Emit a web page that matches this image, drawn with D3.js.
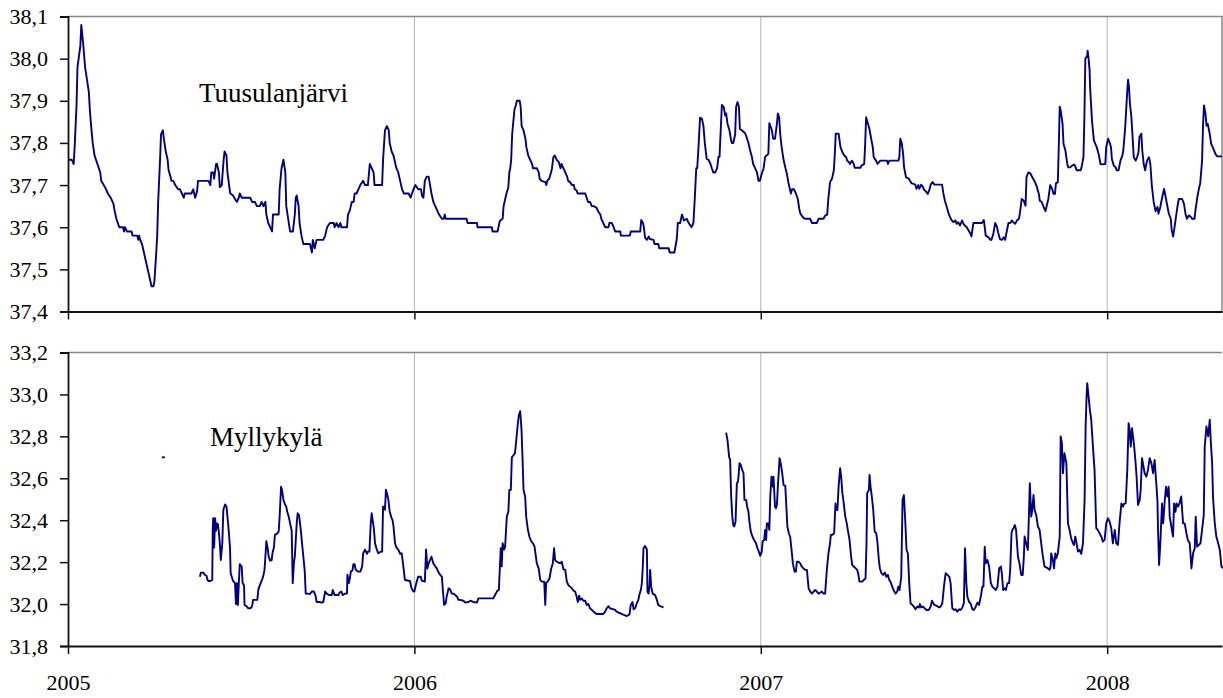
<!DOCTYPE html>
<html>
<head>
<meta charset="utf-8">
<script src="https://cdn.jsdelivr.net/npm/d3@7"></script>
<style>
  body { margin: 0; background: #fff; }
  svg { display: block; }
  text { font-family: "Liberation Serif", "Times New Roman", serif; fill: #000; }
</style>
</head>
<body>
<div id="chart"></div>
<script>
// x values are days since 2005-01-01, y values are water levels (m)
const yearTicks = [2005, 2006, 2007, 2008]
const topTicks = [37.4, 37.5, 37.6, 37.7, 37.8, 37.9, 38.0, 38.1]
const bottomTicks = [31.8, 32.0, 32.2, 32.4, 32.6, 32.8, 33.0, 33.2]

const tuusulanjarvi = [
	[0,37.76],[4,37.76],[6,37.75],[7,37.79],[9,37.89],[10,37.98],[13,38.03],[14,38.08],[16,38.035],[18,37.98],
	[20,37.95],[22,37.92],[23,37.88],[24,37.85],[26,37.80],[28,37.77],[31,37.75],[34,37.73],[35,37.71],[39,37.695],
	[42,37.68],[45,37.67],[48,37.655],[49,37.64],[51,37.62],[54,37.60],[58,37.60],[59,37.59],[60,37.60],[62,37.59],
	[67,37.59],[68,37.58],[73,37.58],[74,37.57],[75,37.58],[76,37.57],[78,37.56],[80,37.54],[82,37.52],[84,37.50],
	[86,37.48],[88,37.46],[90,37.46],[91,37.47],[93,37.54],[94,37.58],[95,37.66],[97,37.76],[98,37.82],[100,37.83],
	[101,37.81],[103,37.78],[105,37.76],[106,37.735],[108,37.72],[109,37.71],[111,37.71],[113,37.70],[116,37.69],[118,37.69],
	[120,37.68],[122,37.67],[123,37.68],[130,37.68],[132,37.69],[134,37.67],[136,37.685],[137,37.71],[148,37.71],[150,37.70],
	[151,37.73],[153,37.73],[154,37.715],[156,37.75],[157,37.75],[159,37.73],[160,37.695],[162,37.70],[164,37.76],[165,37.78],
	[167,37.77],[168,37.73],[170,37.695],[171,37.68],[174,37.675],[176,37.667],[178,37.66],[180,37.67],[181,37.68],[183,37.67],
	[192,37.67],[194,37.66],[197,37.66],[199,37.65],[202,37.65],[204,37.66],[206,37.65],[208,37.66],[209,37.63],[211,37.61],
	[213,37.60],[215,37.59],[216,37.63],[222,37.63],[223,37.69],[225,37.74],[227,37.76],[229,37.73],[230,37.65],[232,37.62],
	[234,37.59],[237,37.59],[239,37.63],[240,37.67],[241,37.675],[243,37.65],[244,37.61],[246,37.58],[248,37.56],[255,37.56],
	[257,37.54],[258,37.57],[259,37.56],[260,37.55],[262,37.57],[269,37.57],[271,37.58],[273,37.60],[276,37.61],[280,37.61],
	[281,37.60],[283,37.61],[285,37.60],[287,37.61],[288,37.60],[294,37.60],[295,37.63],[297,37.64],[299,37.66],[301,37.66],
	[302,37.68],[304,37.68],[306,37.69],[308,37.70],[311,37.71],[313,37.70],[316,37.70],[318,37.75],[320,37.74],[322,37.73],
	[323,37.70],[331,37.70],[332,37.76],[334,37.83],[336,37.84],[338,37.83],[339,37.80],[341,37.78],[343,37.77],[345,37.75],
	[346,37.74],[348,37.73],[350,37.71],[352,37.69],[354,37.68],[359,37.68],[361,37.67],[364,37.69],[366,37.70],[369,37.69],
	[372,37.69],[373,37.675],[374.5,37.67],[376,37.71],[378,37.72],[380,37.72],[381.5,37.70],[383,37.68],[385,37.66],[387,37.65],
	[389,37.64],[391,37.63],[394,37.62],[396,37.62],[397,37.63],[398,37.62],[420,37.62],[421,37.61],[431,37.61],[431.5,37.60],
	[446.6,37.60],[447.3,37.59],[452.6,37.59],[453.6,37.60],[455,37.615],[458,37.62],[459,37.65],[461,37.67],[462,37.68],[464,37.695],
	[465,37.73],[466,37.74],[467,37.76],[468,37.82],[469,37.845],[470.5,37.88],[472,37.89],[473,37.90],[476,37.90],[477,37.885],
	[478,37.84],[480,37.83],[482,37.81],[483,37.79],[485,37.77],[487,37.76],[489,37.75],[490,37.74],[494,37.74],[496,37.73],
	[497,37.715],[499,37.71],[503,37.707],[504,37.70],[505,37.71],[507,37.715],[509,37.73],[510,37.74],[511.5,37.767],[513,37.77],
	[515,37.76],[517,37.755],[519,37.74],[520,37.75],[522,37.74],[524,37.73],[526,37.72],[527,37.71],[529,37.707],[531,37.70],
	[533,37.70],[534,37.69],[536,37.687],[537,37.68],[545,37.68],[547,37.667],[548,37.66],[550,37.66],[552,37.65],[554,37.65],
	[557,37.646],[559,37.636],[561,37.63],[562,37.62],[564,37.61],[566,37.60],[569.5,37.60],[570.5,37.61],[573,37.61],[575,37.60],
	[576.5,37.59],[582,37.59],[582.5,37.58],[592,37.58],[593,37.59],[603,37.59],[604,37.617],[606,37.61],[607,37.596],[608,37.576],
	[610,37.57],[612,37.578],[613,37.572],[617,37.57],[618,37.56],[622,37.56],[623,37.55],[633,37.55],[634,37.54],[639,37.54],
	[640,37.553],[641.5,37.572],[642.6,37.61],[645,37.61],[647,37.63],[649,37.616],[652,37.62],[654,37.61],[657,37.60],[659,37.61],
	[660.5,37.67],[662,37.74],[663,37.74],[664.4,37.79],[666,37.86],[668,37.857],[669.6,37.84],[671,37.80],[673,37.762],[675,37.76],
	[677,37.75],[678.4,37.74],[680,37.73],[682,37.73],[684,37.74],[685.4,37.767],[686.5,37.767],[688,37.84],[689,37.89],[691,37.885],
	[692.5,37.865],[693.5,37.87],[695,37.845],[697,37.83],[698.4,37.81],[699.5,37.80],[701,37.80],[703,37.82],[704,37.885],[705.5,37.897],
	[707,37.885],[708,37.833],[710,37.83],[713.5,37.823],[715,37.814],[717,37.80],[719,37.78],[720.6,37.767],[722,37.75],[724,37.74],
	[726,37.73],[727.6,37.71],[729,37.71],[731,37.727],[733,37.74],[734.6,37.767],[736,37.77],[738,37.774],[739,37.847],[741.7,37.83],
	[743,37.81],[745,37.81],[747,37.845],[748,37.87],[749.4,37.86],[750.5,37.82],[752,37.79],[754,37.76],[756,37.74],[757.5,37.727],
	[759,37.707],[761.7,37.68],[763,37.69],[765,37.69],[767,37.68],[769,37.667],[770.5,37.644],[771.6,37.633],[773,37.628],[775,37.622],
	[777,37.62],[782,37.62],[784,37.61],[789,37.61],[791,37.62],[796,37.62],[798,37.628],[800,37.63],[801,37.663],[803,37.707],
	[805,37.715],[807,37.735],[808,37.774],[809,37.822],[812,37.822],[813,37.806],[814,37.79],[816,37.778],[818,37.77],[820,37.766],
	[821,37.758],[823,37.754],[824,37.75],[826,37.758],[828,37.75],[829,37.741],[835,37.741],[836,37.746],[839,37.75],[840,37.798],
	[841,37.861],[843,37.845],[844.5,37.833],[846,37.814],[848,37.79],[849,37.766],[851.5,37.758],[853,37.75],[856,37.758],[863,37.758],
	[864,37.75],[865.5,37.758],[875,37.758],[876,37.766],[877,37.81],[878.5,37.80],[880,37.774],[881,37.742],[883,37.719],[886,37.715],
	[887,37.711],[889,37.704],[891,37.703],[893,37.70],[894,37.691],[896,37.70],[897,37.691],[899,37.701],[901,37.695],[902,37.689],
	[904,37.685],[906,37.679],[908,37.691],[909,37.701],[911,37.707],[913,37.701],[921,37.701],[922.5,37.679],[924,37.663],[926,37.648],
	[928,37.632],[929.5,37.624],[931,37.617],[933,37.612],[935,37.616],[936.5,37.608],[938,37.612],[940,37.604],[942,37.616],[943.6,37.608],
	[945,37.604],[947,37.60],[949,37.592],[951,37.584],[952,37.578],[954,37.61],[963,37.61],[965,37.617],[966,37.60],[967,37.58],
	[970,37.576],[972,37.57],[973,37.57],[975,37.584],[977,37.61],[979,37.60],[980,37.588],[982,37.572],[984,37.57],[986,37.576],
	[987.5,37.57],[989,37.588],[991,37.61],[993,37.61],[994.5,37.616],[996,37.612],[998,37.608],[1000,37.616],[1002,37.62],[1003,37.632],
	[1005,37.667],[1007,37.663],[1009,37.651],[1010,37.719],[1012,37.73],[1014,37.728],[1016,37.719],[1017,37.715],[1019,37.707],[1021,37.695],
	[1023,37.679],[1024,37.663],[1026,37.66],[1028,37.648],[1030,37.638],[1031,37.648],[1033,37.667],[1035,37.70],[1037,37.691],[1038.5,37.679],
	[1040,37.679],[1041,37.704],[1043,37.707],[1044,37.79],[1045,37.886],[1046,37.877],[1048,37.845],[1049,37.798],[1051,37.782],[1053,37.75],
	[1054,37.742],[1056,37.742],[1058,37.746],[1060,37.749],[1061,37.746],[1063,37.735],[1067,37.735],[1068,37.742],[1070,37.766],[1071,37.861],
	[1072,38.0],[1074,38.007],[1074.4,38.019],[1075.4,38.0],[1076.5,37.972],[1077,37.932],[1078,37.893],[1079,37.853],[1081,37.806],[1082.5,37.798],
	[1084,37.79],[1086,37.774],[1088,37.75],[1090,37.749],[1093,37.75],[1094,37.79],[1096,37.81],[1098,37.798],[1099,37.79],[1100,37.762],
	[1102,37.746],[1104,37.742],[1105,37.735],[1107,37.735],[1109,37.758],[1111,37.77],[1112,37.782],[1114,37.837],[1116,37.917],[1117,37.95],
	[1118,37.932],[1119,37.893],[1120.5,37.861],[1122,37.806],[1123,37.766],[1125,37.758],[1126.5,37.766],[1128,37.778],[1129,37.814],[1131,37.822],
	[1132,37.782],[1133.5,37.75],[1135,37.735],[1137,37.758],[1139,37.766],[1140.5,37.75],[1142,37.70],[1144,37.66],[1146,37.638],[1148,37.648],
	[1149,37.632],[1151,37.648],[1153,37.671],[1155,37.691],[1156,37.679],[1158,37.655],[1160,37.632],[1162,37.62],[1163,37.593],[1164.5,37.578],
	[1166,37.60],[1167,37.616],[1169,37.648],[1170.5,37.667],[1174,37.667],[1176,37.655],[1177.5,37.632],[1179,37.62],[1181,37.628],[1183,37.625],
	[1184.5,37.62],[1187,37.62],[1188,37.64],[1190,37.671],[1192,37.695],[1193,37.703],[1195,37.758],[1196,37.841],[1197,37.889],[1198.6,37.869],
	[1199.7,37.841],[1201,37.845],[1203,37.822],[1204.6,37.798],[1207,37.786],[1209,37.774],[1211,37.768],[1216,37.768]
]

// Myllykylä has gaps, so it is kept in separate runs
const myllykylaRun1 = [[99,32.70],[102,32.70]]

const myllykylaRun2 = [
	[139,32.13],[140,32.15],[142.6,32.15],[144,32.14],[146,32.135],[147,32.115],[148,32.11],[150,32.11],[152,32.115],[152.5,32.35],
	[153,32.41],[154,32.27],[155,32.41],[156,32.35],[157,32.385],[158,32.38],[159,32.34],[160,32.29],[161,32.21],[162.6,32.29],
	[163.7,32.45],[165.5,32.475],[167,32.465],[169,32.37],[170.7,32.27],[171.4,32.147],[173,32.123],[174,32.11],[176,32.10],[177,32.0],
	[178,32.10],[179,31.996],[180,32.10],[181,32.19],[183,32.18],[184,32.10],[185.5,32.09],[186,31.996],[188,31.99],[190,31.98],
	[192.5,31.98],[194,31.99],[195,32.02],[197,32.02],[199.5,32.02],[200.6,32.07],[201.6,32.083],[203,32.10],[205,32.123],[206,32.14],
	[207,32.16],[208,32.226],[209,32.30],[210.4,32.266],[211.5,32.226],[213,32.207],[214.6,32.21],[215.7,32.25],[217,32.27],[218,32.33],
	[220,32.335],[222,32.346],[223,32.417],[224.5,32.56],[225.5,32.545],[227,32.497],[228.7,32.475],[230,32.465],[231,32.44],[232.6,32.417],
	[234,32.385],[235.7,32.35],[236.8,32.10],[238,32.194],[239,32.226],[241,32.385],[242,32.433],[243.4,32.425],[244.5,32.385],[245.6,32.34],
	[246.6,32.29],[248,32.226],[249.4,32.16],[250.5,32.05],[252.6,32.05],[255,32.048],[257,32.06],[259,32.06],[260.7,32.043],[262,32.01],
	[265,32.01],[267,32.007],[269,32.01],[271,32.06],[272.6,32.05],[275,32.043],[278,32.043],[279,32.067],[281,32.043],[285,32.043],
	[286,32.054],[288,32.06],[289.5,32.043],[292,32.05],[294,32.05],[294.4,32.14],[296,32.10],[297,32.123],[298,32.155],[299.7,32.16],
	[300.7,32.19],[302,32.19],[303,32.166],[304,32.16],[306,32.155],[308,32.155],[310,32.18],[311,32.242],[313,32.26],[315,32.24],
	[316,32.25],[317.6,32.25],[319,32.385],[320,32.433],[322,32.37],[322.5,32.35],[323.5,32.29],[325,32.266],[327,32.242],[329.5,32.25],
	[331,32.25],[332,32.465],[333,32.465],[334,32.45],[335,32.545],[336,32.53],[337.6,32.497],[339,32.44],[341,32.41],[342,32.40],
	[343,32.37],[344.6,32.29],[346,32.27],[348,32.26],[350,32.24],[351.6,32.242],[353,32.194],[355,32.115],[360.4,32.11],[362,32.075],
	[364,32.06],[365,32.06],[367,32.10],[369,32.13],[371.7,32.13],[372.7,32.112],[376,32.107],[377.3,32.26],[378.7,32.17],[380,32.194],
	[381.5,32.21],[383,32.226],[385,32.194],[387,32.18],[388.6,32.17],[390,32.155],[392,32.14],[394,32.13],[395,32.067],[396.3,31.996],
	[398,32.004],[399,32.035],[401,32.075],[402.6,32.07],[404.4,32.05],[406,32.05],[408,32.043],[410,32.035],[411.4,32.02],[413,32.02],
	[416.7,32.016],[418.5,32.007],[422,32.01],[424,32.016],[427,32.01],[430.8,32.007],[432.5,32.027],[448,32.027],[450,32.043],[452.5,32.064],
	[454,32.067],[456,32.266],[457,32.18],[458,32.29],[459.6,32.26],[460.6,32.274],[462.4,32.417],[464,32.44],[465,32.544],[466.6,32.544],
	[467.7,32.70],[469.4,32.71],[471,32.72],[472.3,32.78],[473.7,32.847],[475,32.90],[476.5,32.92],[477.9,32.83],[479,32.69],[480,32.544],
	[481.7,32.513],[482.8,32.417],[484.6,32.354],[486.3,32.32],[488,32.30],[490,32.29],[491.6,32.274],[494,32.194],[496,32.17],[497.6,32.115],
	[499.3,32.107],[501.8,32.107],[502.9,31.996],[503.8,32.10],[505.3,32.107],[507.4,32.123],[509,32.166],[510.8,32.194],[512.2,32.266],[513.3,32.21],
	[515,32.202],[517,32.198],[518.6,32.194],[520.3,32.202],[522,32.166],[524,32.163],[525.6,32.107],[527.3,32.09],[529,32.083],[531,32.075],
	[532.6,32.064],[534.4,32.06],[536,32.035],[537.2,32.01],[538.6,32.04],[539.6,32.02],[541.4,32.027],[543,32.016],[545,32.016],[546.6,31.996],
	[548.4,32.0],[550,31.98],[552,31.972],[553.7,31.964],[557,31.953],[564,31.953],[566,31.964],[567.7,31.98],[569.5,31.99],[571,31.98],
	[575,31.975],[576.5,31.972],[578,31.964],[582,31.956],[585,31.95],[589,31.943],[591.6,31.95],[593,31.996],[594.8,32.01],[596,31.975],
	[597.6,31.98],[599.4,32.004],[601,32.02],[602,32.043],[603.6,32.067],[604.7,32.10],[605.7,32.18],[606.4,32.266],[608,32.277],[610,32.26],
	[610.6,32.06],[611.7,32.05],[612.8,32.09],[613.4,32.163],[614.5,32.083],[616,32.05],[618.7,32.043],[620.5,32.02],[622,31.996],[624,31.99],
	[626,31.987],[627.5,31.984]
]

const myllykylaRun3 = [
	[693.5,32.818],[695,32.78],[696.7,32.70],[697.7,32.69],[698.8,32.513],[700,32.417],[701,32.377],[702,32.37],[703.4,32.393],[704.8,32.576],
	[706,32.584],[706.5,32.608],[707.6,32.672],[709,32.664],[710.4,32.64],[711.8,32.624],[712.8,32.497],[714.6,32.497],[715.6,32.465],[717,32.44],
	[718,32.393],[719.5,32.346],[720.6,32.33],[722,32.314],[723.7,32.30],[725,32.29],[726.5,32.266],[728,32.25],[729.4,32.23],[731,32.25],
	[732,32.30],[733.6,32.306],[734.6,32.354],[735.7,32.306],[736.4,32.385],[738,32.385],[739,32.354],[740,32.513],[741.3,32.608],[742.7,32.56],
	[743.4,32.608],[745,32.465],[746,32.457],[747,32.473],[748,32.56],[749.8,32.696],[751,32.672],[752.6,32.624],[754,32.568],[755.8,32.564],
	[756.8,32.48],[758,32.37],[759.6,32.338],[761,32.32],[762.4,32.26],[763.8,32.194],[765.6,32.155],[767,32.155],[768,32.202],[769.8,32.202],
	[771.6,32.194],[773,32.18],[775,32.17],[777,32.163],[778.6,32.163],[780.4,32.075],[782,32.06],[784,32.05],[785.7,32.06],[787.4,32.067],
	[789,32.06],[791,32.05],[792.5,32.054],[794.3,32.06],[796,32.05],[797.8,32.05],[799.6,32.163],[801.3,32.242],[803,32.29],[803.8,32.33],
	[805.5,32.33],[807.3,32.338],[808.7,32.48],[809.4,32.449],[810.8,32.449],[812,32.56],[813.6,32.648],[814.7,32.608],[816,32.529],[817,32.497],
	[819,32.417],[820.6,32.385],[821.7,32.354],[823.5,32.306],[825.2,32.226],[826.3,32.187],[828,32.179],[830,32.17],[831.6,32.163],[832.6,32.147],
	[834,32.107],[836.8,32.107],[838.6,32.115],[840.4,32.123],[841.4,32.29],[842.1,32.529],[843.9,32.544],[844.6,32.616],[845.7,32.56],[847,32.513],
	[848.5,32.449],[850,32.346],[851.6,32.338],[852.7,32.306],[854.4,32.21],[855.5,32.17],[857.2,32.147],[859,32.139],[860.8,32.15],[862.2,32.13],
	[864,32.139],[865.3,32.115],[866.7,32.107],[868.5,32.083],[870.2,32.064],[872,32.05],[873.8,32.06],[874.8,32.083],[876.2,32.067],[878,32.13],
	[879.4,32.497],[880.8,32.52],[882.2,32.40],[883.6,32.258],[885,32.242],[886.4,32.10],[887.8,32.004],[889.6,31.996],[891.3,31.988],[893,31.975],
	[895,31.988],[896.6,31.984],[897.7,32.0],[899,31.984],[901,31.988],[902.6,31.98],[904.7,31.972],[907,31.972],[909,31.988],[910.4,32.016],
	[911.8,32.004],[913,31.996],[916,31.99],[918,31.984],[919.5,31.988],[921.3,32.004],[923,32.083],[924.8,32.147],[926.6,32.139],[928.7,32.13],
	[930,32.10],[931.8,31.98],[933.6,31.972],[935.4,31.975],[937,31.964],[939,31.975],[940.6,31.972],[942.4,31.984],[944,32.004],[945.2,32.266],
	[946.6,32.10],[947.7,32.035],[949.5,32.01],[951,32.004],[953,31.975],[954.7,31.972],[956.5,31.988],[958.3,32.007],[960,31.996],[961.8,32.035],
	[963.5,32.083],[964.6,32.083],[966,32.274],[967,32.194],[968.8,32.21],[970.6,32.179],[972.4,32.10],[974,32.083],[976,32.075],[977.6,32.067],
	[979.4,32.083],[981.2,32.17],[983,32.179],[984,32.147],[985.4,32.067],[987,32.075],[988.2,32.067],[990,32.10],[991.7,32.10],[992.8,32.163],
	[994.2,32.338],[995.2,32.354],[996.3,32.362],[997.7,32.377],[999,32.354],[1001,32.226],[1002.6,32.194],[1004.4,32.139],[1006,32.139],[1007.2,32.226],
	[1008,32.322],[1009.6,32.29],[1011.4,32.258],[1012.5,32.417],[1013.5,32.576],[1015,32.417],[1016,32.449],[1017.4,32.52],[1018.5,32.449],[1020.2,32.425],
	[1022,32.37],[1023.8,32.354],[1025.5,32.29],[1027.3,32.226],[1029,32.179],[1030.8,32.175],[1032.6,32.17],[1034.3,32.163],[1035.4,32.179],[1036,32.242],
	[1037.8,32.21],[1039,32.17],[1040.3,32.242],[1041.3,32.218],[1043,32.242],[1045,32.322],[1046,32.80],[1047.3,32.767],[1048.4,32.624],[1050,32.72],
	[1052,32.672],[1053.7,32.385],[1055.4,32.354],[1057,32.314],[1059,32.29],[1060,32.282],[1061.4,32.322],[1062.8,32.29],[1064.2,32.25],[1066,32.258],
	[1067.7,32.24],[1069.5,32.29],[1071.2,32.497],[1072.3,32.847],[1073.3,32.99],[1074,33.054],[1075.4,32.99],[1076.8,32.926],[1078.2,32.879],[1080,32.751],
	[1081.7,32.64],[1083.5,32.362],[1085,32.354],[1087,32.338],[1088.8,32.322],[1090.5,32.298],[1092.3,32.306],[1094,32.385],[1095.8,32.409],[1097.6,32.393],
	[1099.3,32.362],[1101,32.29],[1103,32.354],[1104.6,32.29],[1106.4,32.282],[1108,32.385],[1110,32.48],[1111.7,32.465],[1112.7,32.478],[1114.5,32.48],
	[1116.2,32.64],[1117.6,32.863],[1118.7,32.831],[1119.8,32.751],[1121.2,32.839],[1122.2,32.80],[1123.3,32.759],[1124.7,32.688],[1126,32.608],[1127.5,32.473],
	[1129.3,32.497],[1130.3,32.544],[1131.7,32.696],[1133,32.664],[1134.5,32.624],[1136.3,32.608],[1138,32.64],[1139.8,32.696],[1141.6,32.672],[1143.4,32.624],
	[1145,32.688],[1147,32.56],[1148,32.489],[1148.6,32.354],[1149.7,32.187],[1151,32.29],[1152.8,32.48],[1154,32.385],[1155.6,32.489],[1157,32.56],
	[1158.4,32.513],[1159.8,32.56],[1160.9,32.417],[1162.6,32.37],[1164.4,32.322],[1165.5,32.48],[1167,32.44],[1168,32.48],[1169.7,32.465],[1171.4,32.484],
	[1173,32.513],[1175,32.385],[1176.7,32.385],[1178.5,32.338],[1180,32.306],[1182,32.29],[1183.8,32.17],[1185.5,32.242],[1187.3,32.266],[1188.3,32.417],
	[1189.7,32.274],[1191.5,32.282],[1193.3,32.29],[1195,32.354],[1196.8,32.425],[1197.8,32.751],[1199.6,32.847],[1201.4,32.80],[1203.1,32.879],[1204.2,32.775],
	[1205.6,32.672],[1206.6,32.505],[1208.4,32.385],[1210,32.322],[1212,32.29],[1213.7,32.258],[1215.4,32.179],[1217.5,32.17]
]

const width = 1223, height = 698
const left = 68, right = 1222
const lineColor = "#000080"

const startDate = new Date(Date.UTC(2005, 0, 1))
const endDate = new Date(Date.UTC(2008, 4, 1))
const dayToDate = d => new Date(startDate.getTime() + d * 864e5)

const x = d3.scaleUtc()
	.domain([startDate, endDate])
	.range([left, right])

const fmt = v => d3.format(".1f")(v).replace(".", ",")

const svg = d3.select("#chart")
	.append("svg")
	.attr("width", width)
	.attr("height", height)

svg.append("rect")
	.attr("width", width)
	.attr("height", height)
	.attr("fill", "#fff")

function drawPanel(opts) {
	const y = d3.scaleLinear()
		.domain(opts.domain)
		.range([opts.bottom, opts.top])

	const g = svg.append("g")

	// vertical gridlines at year boundaries
	g.selectAll("line.grid")
		.data(yearTicks.slice(1))
		.enter()
		.append("line")
		.attr("class", "grid")
		.attr("x1", d => x(new Date(Date.UTC(d, 0, 1))))
		.attr("x2", d => x(new Date(Date.UTC(d, 0, 1))))
		.attr("y1", opts.top)
		.attr("y2", opts.bottom)
		.attr("stroke", "#b4b4b4")
		.attr("stroke-width", 1)

	// top and right frame
	g.append("path")
		.attr("d", `M${left},${opts.top}H${right}` + (opts.rightBorder ? `V${opts.bottom}` : ""))
		.attr("fill", "none")
		.attr("stroke", "#888")
		.attr("stroke-width", 1.5)

	const line = d3.line()
		.x(d => x(dayToDate(d[0])))
		.y(d => y(d[1]))

	g.selectAll("path.series")
		.data(opts.runs)
		.enter()
		.append("path")
		.attr("class", "series")
		.attr("d", line)
		.attr("fill", "none")
		.attr("stroke", lineColor)
		.attr("stroke-width", 1.9)
		.attr("stroke-linejoin", "round")

	// y axis
	const yAxis = g.append("g")
		.attr("font-family", null)
		.attr("transform", `translate(${left},0)`)
		.call(d3.axisLeft(y).tickValues(opts.ticks).tickFormat(fmt).tickSize(8).tickPadding(12))
	yAxis.attr("font-family", null)
	yAxis.select(".domain").attr("stroke", "#111").attr("stroke-width", 1.8)
	yAxis.selectAll(".tick line").attr("stroke", "#111").attr("stroke-width", 1.5)
	yAxis.selectAll(".tick text")
		.attr("fill", "#000")
		.style("font-size", "22px")

	// x axis
	const xAxis = g.append("g")
		.attr("transform", `translate(0,${opts.bottom})`)
		.call(d3.axisBottom(x)
			.tickValues(yearTicks.map(d => new Date(Date.UTC(d, 0, 1))))
			.tickFormat(opts.showYears ? d3.utcFormat("%Y") : "")
			.tickSizeInner(8)
			.tickSizeOuter(0)
			.tickPadding(20))
	xAxis.attr("font-family", null)
	xAxis.select(".domain").attr("stroke", "#111").attr("stroke-width", 1.8)
	xAxis.selectAll(".tick line").attr("stroke", "#111").attr("stroke-width", 1.5)
	xAxis.selectAll(".tick text")
		.attr("fill", "#000")
		.style("font-size", "22px")

	g.append("text")
		.attr("x", opts.labelX)
		.attr("y", opts.labelY)
		.style("font-size", "27px")
		.text(opts.label)
}

drawPanel({
	domain: [37.4, 38.1],
	ticks: topTicks,
	top: 16.5,
	bottom: 311.5,
	runs: [tuusulanjarvi],
	label: "Tuusulanjärvi",
	labelX: 199,
	labelY: 102,
	rightBorder: true,
	showYears: false
})

drawPanel({
	domain: [31.8, 33.2],
	ticks: bottomTicks,
	top: 352.5,
	bottom: 646,
	runs: [myllykylaRun1, myllykylaRun2, myllykylaRun3],
	label: "Myllykylä",
	labelX: 210,
	labelY: 446,
	rightBorder: false,
	showYears: true
})
</script>
</body>
</html>
